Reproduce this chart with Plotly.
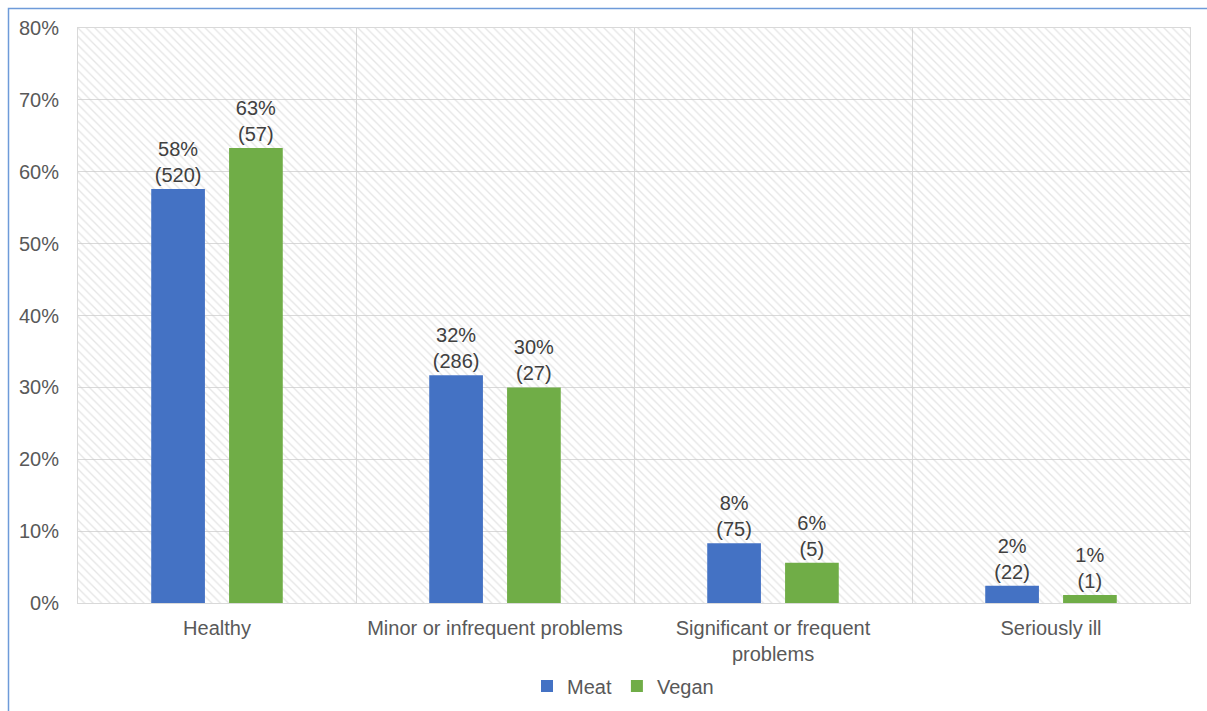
import plotly.graph_objects as go

categories = ["Healthy", "Minor or infrequent problems", "Significant or frequent<br>problems", "Seriously ill"]
meat_pct = [57.6, 31.7, 8.3, 2.4]
meat_n = [520, 286, 75, 22]
vegan_pct = [63.3, 30.0, 5.6, 1.1]
vegan_n = [57, 27, 5, 1]
y_ticks = [0, 10, 20, 30, 40, 50, 60, 70, 80]
y_ticktext = [f"{v}%" for v in y_ticks]

W, H = 1207, 711
L, R, T, B = 78, 17, 28, 108
x_idx = list(range(len(categories)))
xr = [-0.5, len(categories) - 0.5]
yr = [0, 80]

FONT = "Liberation Sans, Arial"
FS = 20
fig = go.Figure()

# hatched plot background (main axes, drawn beneath the overlaid bar axes)
fig.add_trace(go.Scatter(
    x=[xr[0], xr[1], xr[1], xr[0], xr[0]], y=[yr[0], yr[0], yr[1], yr[1], yr[0]],
    mode="lines", line=dict(width=0), fill="toself", fillcolor="rgba(0,0,0,0)",
    fillpattern=dict(shape="\\", fgcolor="#cccccc", bgcolor="rgba(0,0,0,0)", size=6, solidity=0.22),
    hoverinfo="skip", showlegend=False, xaxis="x", yaxis="y"))

lab_font = dict(family=FONT, size=FS, color="#404040")

fig.add_trace(go.Bar(
    name="Meat", x=x_idx, y=meat_pct, marker=dict(color="#4472C4", line=dict(width=0)),
    text=[f"{round(p)}%<br>({n})" for p, n in zip(meat_pct, meat_n)],
    textposition="outside", textfont=lab_font, cliponaxis=False, xaxis="x2", yaxis="y2"))
fig.add_trace(go.Bar(
    name="Vegan", x=x_idx, y=vegan_pct, marker=dict(color="#70AD47", line=dict(width=0)),
    text=[f"{round(p)}%<br>({n})" for p, n in zip(vegan_pct, vegan_n)],
    textposition="outside", textfont=lab_font, cliponaxis=False, xaxis="x2", yaxis="y2"))

# outer blue frame
pw, ph = W - L - R, H - T - B
def px_x(p):
    return (p - L) / pw
def px_y(p):
    return (H - B - p) / ph
fig.add_shape(type="rect", xref="paper", yref="paper",
              x0=px_x(8.5), x1=px_x(1230), y0=px_y(730), y1=px_y(8.5),
              line=dict(color="#6E9BD9", width=1.5), fillcolor="rgba(0,0,0,0)", layer="below")

fig.update_layout(
    width=W, height=H,
    margin=dict(l=L, r=R, t=T, b=B, autoexpand=False),
    paper_bgcolor="white", plot_bgcolor="white",
    barmode="group", bargap=0.44, bargroupgap=0.31,
    font=dict(family=FONT, color="#595959", size=FS),
    showlegend=True,
    legend=dict(orientation="h", x=px_x(527), xanchor="left", y=px_y(686), yanchor="middle",
                font=dict(family=FONT, size=FS, color="#595959"), itemwidth=30,
                bgcolor="rgba(0,0,0,0)"),
    xaxis=dict(range=xr, tickvals=x_idx, ticktext=categories, showgrid=False,
               showline=True, linecolor="#d9d9d9", linewidth=1, mirror=True,
               ticks="", ticklabelstandoff=7, tickfont=dict(family=FONT, size=FS, color="#595959"),
               minor=dict(tickvals=[i + 0.5 for i in x_idx[:-1]], showgrid=True,
                          gridcolor="#d9d9d9", gridwidth=1, ticks=""),
               zeroline=False, automargin=False),
    yaxis=dict(range=yr, tickvals=y_ticks, ticktext=y_ticktext, showgrid=True,
               gridcolor="#d9d9d9", gridwidth=1, showline=True, linecolor="#d9d9d9",
               mirror=True, ticks="", ticklabelstandoff=14,
               tickfont=dict(family=FONT, size=FS, color="#595959"), zeroline=False, automargin=False),
    xaxis2=dict(range=xr, overlaying="x", showticklabels=False, showgrid=False,
                zeroline=False, showline=False, ticks=""),
    yaxis2=dict(range=yr, overlaying="y", showticklabels=False, showgrid=False,
                zeroline=False, showline=False, ticks=""),
)

fig.write_html("out.html")
